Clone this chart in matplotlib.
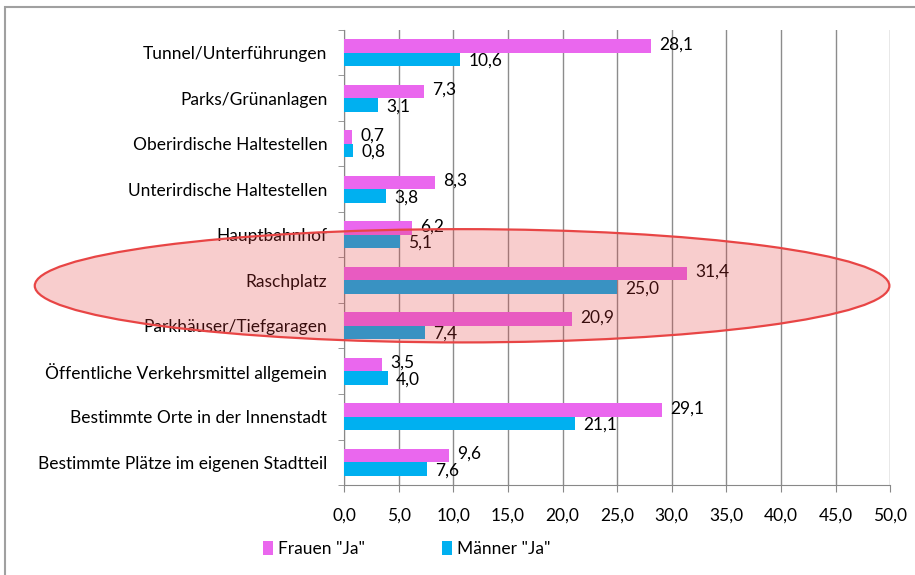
import numpy as np
import matplotlib.pyplot as plt
from matplotlib.patches import Ellipse, Rectangle

categories = ["Tunnel/Unterführungen", "Parks/Grünanlagen", "Oberirdische Haltestellen",
              "Unterirdische Haltestellen", "Hauptbahnhof", "Raschplatz",
              "Parkhäuser/Tiefgaragen", "Öffentliche Verkehrsmittel allgemein",
              "Bestimmte Orte in der Innenstadt", "Bestimmte Plätze im eigenen Stadtteil"]
frauen = [28.1, 7.3, 0.7, 8.3, 6.2, 31.4, 20.9, 3.5, 29.1, 9.6]
maenner = [10.6, 3.1, 0.8, 3.8, 5.1, 25.0, 7.4, 4.0, 21.1, 7.6]
x_ticks = [0, 5, 10, 15, 20, 25, 30, 35, 40, 45, 50]

plt.rcParams['font.family'] = ['Lato', 'DejaVu Sans']

fig = plt.figure(figsize=(9.15, 5.75), dpi=100)
ax = fig.add_axes([0.376, 0.1565, 0.597, 0.7915])

pink = '#EA67EE'
blue = '#00B0F0'
fs = 12.5
h = 0.3
y = np.arange(len(categories))

ax.barh(y - h / 2, frauen, height=h, color=pink, label='Frauen "Ja"', zorder=3)
ax.barh(y + h / 2, maenner, height=h, color=blue, label='Männer "Ja"', zorder=3)

for i in range(len(categories)):
    ax.annotate(f"{frauen[i]:.1f}".replace('.', ','), (frauen[i], y[i] - h / 2),
                xytext=(6, 1), textcoords='offset points', va='center', ha='left', fontsize=fs)
    ax.annotate(f"{maenner[i]:.1f}".replace('.', ','), (maenner[i], y[i] + h / 2),
                xytext=(6, -1), textcoords='offset points', va='center', ha='left', fontsize=fs)

ax.set_ylim(len(categories) - 0.5, -0.5)
ax.set_xlim(0, 50)
ax.set_yticks(y)
ax.set_yticklabels(categories, fontsize=fs)
ax.set_yticks(np.arange(-0.5, len(categories), 1), minor=True)
ax.tick_params(axis='y', which='major', length=0, pad=12)
ax.tick_params(axis='y', which='minor', length=4, color='#888888')
ax.set_xticks(x_ticks)
ax.set_xticklabels([f"{v:.1f}".replace('.', ',') for v in x_ticks], fontsize=fs)
ax.tick_params(axis='x', length=5, color='#888888', pad=11)
ax.xaxis.grid(True, color='#8C8C8C', linewidth=1, zorder=0)
ax.set_axisbelow(True)
for s in ['top', 'right']:
    ax.spines[s].set_visible(False)
for s in ['left', 'bottom']:
    ax.spines[s].set_color('#888888')

fig.legend(loc='center left', bbox_to_anchor=(0.27, 0.045), ncol=2, frameon=False,
           fontsize=fs, handlelength=0.6, handleheight=0.9, columnspacing=4.4, handletextpad=0.3)

# highlight ellipse over the Raschplatz block
ell = Ellipse((0.505, 0.503), 0.934, 0.197, transform=fig.transFigure,
              facecolor=(0.9, 0.23, 0.23, 0.25), edgecolor='#E84545', linewidth=1.6, zorder=10)
fig.patches.append(ell)

# outer frame
frame = Rectangle((5 / 915, -0.1), 1.1, 1 - 7 / 575 + 0.1, transform=fig.transFigure,
                  fill=False, edgecolor='#A0A0A0', linewidth=1.5)
fig.patches.append(frame)

fig.savefig('out.png', dpi=100)
